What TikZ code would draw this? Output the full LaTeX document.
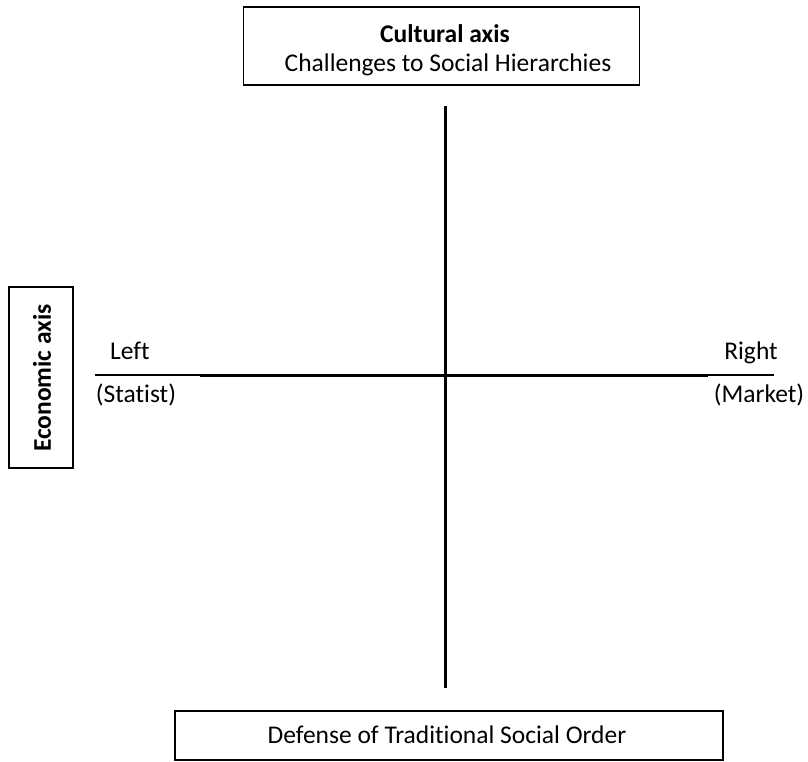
\documentclass[tikz,border=0pt]{standalone}
\usepackage{fontspec}
\setmainfont[Ligatures=NoCommon]{Carlito}
\begin{document}
\begin{tikzpicture}[x=1pt,y=-1pt,
  box/.style={draw, line width=1.3pt, inner sep=0pt},
  lbl/.style={font=\fontsize{25.5}{30}\selectfont, inner sep=0pt},
  blbl/.style={font=\fontsize{25.5}{30}\selectfont\bfseries, inner sep=0pt},
  axisthick/.style={line width=3pt},
  axisthin/.style={line width=1.6pt}]
\useasboundingbox (0,0) rectangle (808,761);
% boxes
\node[box, minimum width=396pt, minimum height=78pt] (top) at (441.5,46) {};
\node[blbl] (toptitle) at (445,34) {Cultural axis};
\node[lbl] (topsub) at (448,65) {Challenges to Social Hierarchies};
\node[box, minimum width=548pt, minimum height=49pt] (bottom) at (449,735.5) {};
\node[lbl] (bottomtxt) at (447,735) {Defense of Traditional Social Order};
\node[box, minimum width=64pt, minimum height=181pt] (left) at (41,377.5) {};
\node[blbl, rotate=90] (lefttxt) at (42,378) {Economic axis};
% axes
\coordinate (vt) at (445,106);
\coordinate (vb) at (445,688);
\coordinate (hl) at (95,375);
\coordinate (hl2) at (200,375);
\coordinate (hr2) at (708,375);
\coordinate (hr) at (774,375);
\draw[axisthick] (vt) -- (vb);
\draw[axisthin] (hl) -- (hl2);
\draw[axisthick] (hl2) -- (hr2);
\draw[axisthin] (hr2) -- (hr);
% labels
\node[lbl, anchor=base] (lleft) at (130,359) {Left};
\node[lbl, anchor=base] (lstat) at (136,402) {(Statist)};
\node[lbl, anchor=base] (lright) at (751,359) {Right};
\node[lbl, anchor=base] (lmark) at (759,402) {(Market)};
\end{tikzpicture}
\end{document}
